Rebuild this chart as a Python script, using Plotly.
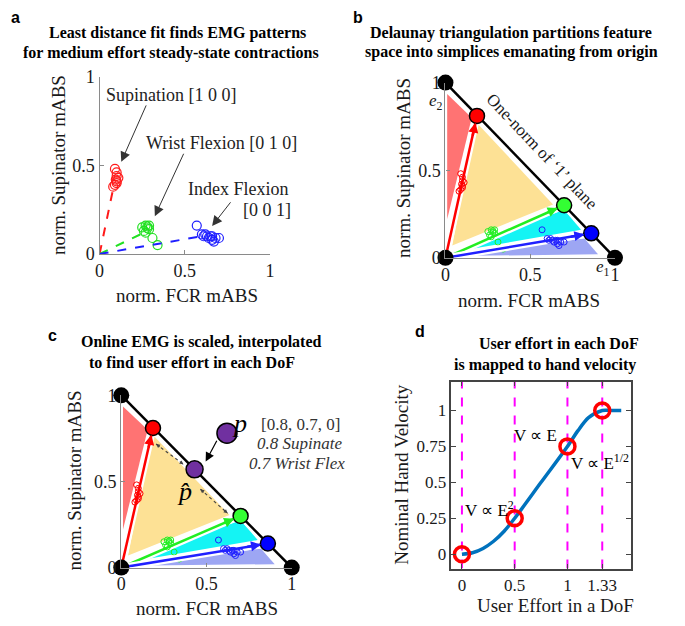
import plotly.graph_objects as go

W, H = 685, 626
SERIF = "Times New Roman, Liberation Serif, serif"
SANS = "Arial, Liberation Sans, sans-serif"
TXT = "#1a1a1a"
AX = "#8a8a8a"

# ---------------- Panel a data: steady-state contraction features ----------------
sup_x = [0.09, 0.10, 0.10, 0.095, 0.10, 0.09, 0.08, 0.10, 0.11]
sup_y = [0.48, 0.46, 0.44, 0.42, 0.41, 0.39, 0.38, 0.40, 0.43]
wf_x = [0.25, 0.27, 0.29, 0.28, 0.26, 0.27, 0.29, 0.31, 0.34, 0.28]
wf_y = [0.15, 0.16, 0.16, 0.145, 0.13, 0.12, 0.14, 0.09, 0.05, 0.155]
if_x = [0.57, 0.60, 0.62, 0.63, 0.64, 0.65, 0.66, 0.67, 0.68, 0.70, 0.61, 0.66]
if_y = [0.16, 0.11, 0.11, 0.10, 0.09, 0.10, 0.08, 0.07, 0.09, 0.09, 0.10, 0.10]
# least-distance fit directions (end points of dashed lines)
fit_sup = [0.08, 0.37]
fit_wf = [0.26, 0.12]
fit_if = [0.60, 0.10]

# ---------------- Panels b/c: simplex geometry ----------------
node_sup = [0.186, 0.81]
node_wf = [0.70, 0.30]
node_if = [0.86, 0.14]
corner_x = [0, 1, 0]
corner_y = [0, 0, 1]
reg_red_x = [0.01, 0.155, 0.01]
reg_red_y = [0.935, 0.80, 0.22]
reg_yel_x = [0.18, 0.635, 0.04]
reg_yel_y = [0.775, 0.305, 0.07]
reg_cya_x = [0.03, 0.70, 0.80]
reg_cya_y = [0.03, 0.275, 0.16]
reg_blu_x = [0.03, 0.82, 0.90]
reg_blu_y = [0.01, 0.11, 0.02]
p_pt = [0.62, 0.78]
phat_pt = [0.43, 0.57]

# ---------------- Panel d: effort -> velocity ----------------
effort = [0, 0.1, 0.2, 0.3, 0.4, 0.5, 0.75, 1.0, 1.1, 1.2, 1.33, 1.42, 1.51]
velocity = [0, 0.01, 0.04, 0.09, 0.16, 0.25, 0.50, 0.75, 0.86, 0.95, 1.0, 1.0, 1.0]
knot_e = [0, 0.5, 1, 1.33]
knot_v = [0, 0.25, 0.75, 1.0]
d_xticks = [0, 0.5, 1, 1.33]
d_xlabels = ["0", "0.5", "1", "1.33"]
d_yticks = [0, 0.25, 0.5, 0.75, 1]
d_ylabels = ["0", "0.25", "0.5", "0.75", "1"]
abc_ticks = [0, 0.5, 1]
abc_labels = ["0", "0.5", "1"]


def fx(px):
    return px / W


def fy(py):
    return 1 - py / H


fig = go.Figure()

# ---------- panel a ----------
for xs, ys, fit, col in [(sup_x, sup_y, fit_sup, "#ff1a1a"),
                         (wf_x, wf_y, fit_wf, "#22e022"),
                         (if_x, if_y, fit_if, "#1f1fff")]:
    fig.add_trace(go.Scatter(x=[0, fit[0]], y=[0, fit[1]], mode="lines",
                             line=dict(color=col, width=2, dash="dash"),
                             xaxis="x", yaxis="y", cliponaxis=False))
    fig.add_trace(go.Scatter(x=xs, y=ys, mode="markers",
                             marker=dict(symbol="circle-open", size=9, color=col,
                                         line=dict(width=1.2, color=col)),
                             xaxis="x", yaxis="y", cliponaxis=False))


# ---------- panels b and c ----------
def simplex(xa, ya, small):
    for rx, ry, col in [(reg_red_x, reg_red_y, "#ff7373"),
                        (reg_yel_x, reg_yel_y, "#fde195"),
                        (reg_cya_x, reg_cya_y, "#14f4f4"),
                        (reg_blu_x, reg_blu_y, "#9da6f3")]:
        fig.add_trace(go.Scatter(x=rx + [rx[0]], y=ry + [ry[0]], mode="lines",
                                 fill="toself", fillcolor=col,
                                 line=dict(width=0, color=col),
                                 xaxis=xa, yaxis=ya, cliponaxis=False))
    for node, xs, ys, col in [(node_sup, sup_x, sup_y, "#ff0000"),
                              (node_wf, wf_x, wf_y, "#22ee22"),
                              (node_if, if_x, if_y, "#2020ff")]:
        fig.add_trace(go.Scatter(x=[0, node[0]], y=[0, node[1]], mode="lines",
                                 line=dict(color="white", width=7),
                                 xaxis=xa, yaxis=ya, cliponaxis=False))
        fig.add_trace(go.Scatter(x=[0, node[0]], y=[0, node[1]], mode="lines",
                                 line=dict(color=col, width=2.5),
                                 xaxis=xa, yaxis=ya, cliponaxis=False))
        fig.add_trace(go.Scatter(x=xs, y=ys, mode="markers",
                                 marker=dict(symbol="circle-open", size=small,
                                             color=col, line=dict(width=1, color=col)),
                                 xaxis=xa, yaxis=ya, cliponaxis=False))
    fig.add_trace(go.Scatter(x=[0, 1], y=[1, 0], mode="lines",
                             line=dict(color="white", width=7),
                             xaxis=xa, yaxis=ya, cliponaxis=False))
    fig.add_trace(go.Scatter(x=[0, 1], y=[1, 0], mode="lines",
                             line=dict(color="black", width=2.5),
                             xaxis=xa, yaxis=ya, cliponaxis=False))
    fig.add_trace(go.Scatter(x=corner_x, y=corner_y, mode="markers",
                             marker=dict(size=16, color="black", opacity=1),
                             xaxis=xa, yaxis=ya, cliponaxis=False))
    fig.add_trace(go.Scatter(x=[node_sup[0], node_wf[0], node_if[0]],
                             y=[node_sup[1], node_wf[1], node_if[1]], mode="markers",
                             marker=dict(size=15, color=["#ff0000", "#33ff33", "#0000ff"],
                                         opacity=1, line=dict(width=1.5, color="black")),
                             xaxis=xa, yaxis=ya, cliponaxis=False))


simplex("x2", "y2", 6)
simplex("x3", "y3", 6)

# dashed double arrows in panel c
dbl = [([0.204, 0.365], [0.717, 0.599]), ([0.464, 0.624], [0.455, 0.315])]
for xs, ys in dbl:
    fig.add_trace(go.Scatter(x=xs, y=ys, mode="lines",
                             line=dict(color="#444", width=1.2, dash="dot"),
                             xaxis="x3", yaxis="y3", cliponaxis=False))
fig.add_trace(go.Scatter(x=[p_pt[0], phat_pt[0]], y=[p_pt[1], phat_pt[1]], mode="markers",
                         marker=dict(size=[20, 17], color="#7030a0", opacity=1,
                                     line=dict(width=1.5, color="black")),
                         xaxis="x3", yaxis="y3", cliponaxis=False))

# ---------- panel d ----------
for e in knot_e:
    fig.add_trace(go.Scatter(x=[e, e], y=[-0.1, 1.2], mode="lines",
                             line=dict(color="#ff00ff", width=2, dash="dash"),
                             xaxis="x4", yaxis="y4"))
fig.add_trace(go.Scatter(x=effort, y=velocity, mode="lines",
                         line=dict(color="#0072bd", width=3.5, shape="spline", smoothing=0.8),
                         xaxis="x4", yaxis="y4"))
fig.add_trace(go.Scatter(x=knot_e, y=knot_v, mode="markers",
                         marker=dict(symbol="circle-open", size=15, color="#ff0000",
                                     line=dict(width=3.5, color="#ff0000")),
                         xaxis="x4", yaxis="y4", cliponaxis=False))

# ---------- axes ----------
tickfont = dict(family=SERIF, size=18, color=TXT)


def simple_axis(dom, anchor):
    return dict(domain=dom, anchor=anchor, range=[0, 1], showgrid=False, zeroline=False,
                showline=True, linecolor=AX, linewidth=1.3, ticks="inside", ticklen=4,
                tickcolor=AX, tickvals=abc_ticks, ticktext=abc_labels, tickfont=tickfont)


layout = dict(
    width=W, height=H, margin=dict(l=0, r=0, t=0, b=0),
    paper_bgcolor="white", plot_bgcolor="rgba(0,0,0,0)", showlegend=False,
    xaxis=simple_axis([fx(96), fx(269)], "y"),
    yaxis=simple_axis([fy(252), fy(69)], "x"),
    xaxis2=simple_axis([fx(447), fx(619)], "y2"),
    yaxis2=simple_axis([fy(256), fy(75)], "x2"),
    xaxis3=simple_axis([fx(118), fx(291)], "y3"),
    yaxis3=simple_axis([fy(576), fy(398)], "x3"),
    xaxis4=dict(domain=[fx(453), fx(635)], anchor="y4", range=[-0.1, 1.6], showgrid=False,
                zeroline=False, showline=True, mirror="ticks", linecolor="#444", linewidth=1.5,
                ticks="inside", ticklen=5, tickcolor="#444", tickvals=d_xticks,
                ticktext=d_xlabels, tickfont=dict(family=SERIF, size=17, color=TXT)),
    yaxis4=dict(domain=[fy(577), fy(384)], anchor="x4", range=[-0.1, 1.2], showgrid=False,
                zeroline=False, showline=True, mirror="ticks", linecolor="#444", linewidth=1.5,
                ticks="inside", ticklen=5, tickcolor="#444", tickvals=d_yticks,
                ticktext=d_ylabels, tickfont=dict(family=SERIF, size=17, color=TXT)),
)
fig.update_layout(**layout)

ann = []


def ptext(px, py, text, size=18, family=SERIF, angle=0, color=TXT, xanchor="center"):
    ann.append(dict(x=fx(px), y=fy(py), xref="paper", yref="paper", text=text,
                    showarrow=False, textangle=angle, xanchor=xanchor, yanchor="middle",
                    font=dict(family=family, size=size, color=color)))


# panel letters
ptext(11, 8, "<b>a</b>", 16, SANS, color="black")
ptext(358, 8, "<b>b</b>", 16, SANS, color="black")
ptext(48, 336, "<b>c</b>", 16, SANS, color="black")
ptext(421, 332, "<b>d</b>", 16, SANS, color="black")

# titles
ptext(175, 24, "<b>Least distance fit finds EMG patterns</b>", 16, color="black")
ptext(168, 44, "<b>for medium effort steady-state contractions</b>", 16, color="black")
ptext(513, 24, "<b>Delaunay triangulation partitions feature</b>", 16, color="black")
ptext(514, 43, "<b>space into simplices emanating from origin</b>", 16, color="black")
ptext(199, 343, "<b>Online EMG is scaled, interpolated</b>", 16, color="black")
ptext(190, 364, "<b>to find user effort in each DoF</b>", 16, color="black")
ptext(562, 345, "<b>User effort in each DoF</b>", 16, color="black")
ptext(548, 367, "<b>is mapped to hand velocity</b>", 16, color="black")

# axis titles
ptext(185, 295, "norm. FCR mABS", 19)
ptext(55, 160, "norm. Supinator mABS", 19, angle=-90)
ptext(532, 300, "norm. FCR mABS", 19)
ptext(405, 163, "norm. Supinator mABS", 19, angle=-90)
ptext(205, 618, "norm. FCR mABS", 19)
ptext(70, 486, "norm. Supinator mABS", 19, angle=-90)
ptext(559, 615, "User Effort in a DoF", 19)
ptext(403, 480, "Nominal Hand Velocity", 19, angle=-90)

# panel a labels
ptext(169, 88, "Supination [1 0 0]", 18, color="#222")
ptext(220, 137, "Wrist Flexion [0 1 0]", 18, color="#222")
ptext(290, 185, "Index Flexion", 18, color="#222", xanchor="right")
ptext(292, 207, "[0 0 1]", 18, color="#222", xanchor="right")


def arrow(xr, yr, hx, hy, tx, ty, head=2, size=1.3, width=1.0, color="#333", standoff=0):
    ann.append(dict(xref=xr, yref=yr, axref=xr, ayref=yr, x=hx, y=hy, ax=tx, ay=ty,
                    text="", showarrow=True, arrowhead=head, arrowsize=size,
                    arrowwidth=width, arrowcolor=color, standoff=standoff))


arrow("x", "y", 0.127, 0.52, 0.277, 0.847, size=2.0)
arrow("x", "y", 0.324, 0.213, 0.497, 0.574, size=2.0)
arrow("x", "y", 0.66, 0.158, 0.775, 0.30, size=2.0)

# small arrowheads at the ends of the simplex edges (panels b, c)
for xr, yr in [("x2", "y2"), ("x3", "y3")]:
    for node, col in [(node_sup, "#ff0000"), (node_wf, "#22ee22"), (node_if, "#2020ff")]:
        arrow(xr, yr, node[0], node[1], node[0] * 0.85, node[1] * 0.85, head=2, size=0.8,
              width=2.5, color=col, standoff=7)

# panel b labels
ptext(545, 146, "One-norm of \u20181\u2019 plane", 17, angle=46.5)
ptext(437, 95, "<i>e</i><sub>2</sub>", 17)
ptext(607, 266, "<i>e</i><sub>1</sub>", 17)

# panel c labels
arrow("x3", "y3", 0.495, 0.615, 0.565, 0.745, head=2, size=1.5, width=1.2, color="black")
for xs, ys in dbl:
    arrow("x3", "y3", xs[1], ys[1], xs[1] - 0.03 * (xs[1] - xs[0]) / 0.16,
          ys[1] - 0.03 * (ys[1] - ys[0]) / 0.16, head=2, size=0.8, width=1, color="#444")
    arrow("x3", "y3", xs[0], ys[0], xs[0] + 0.03 * (xs[1] - xs[0]) / 0.16,
          ys[0] + 0.03 * (ys[1] - ys[0]) / 0.16, head=2, size=0.8, width=1, color="#444")
ptext(238, 427, "<i>p</i>", 26, color="black")
ptext(182, 497, "<i>p\u0302</i>", 26, color="black")
ptext(300, 428, "[0.8, 0.7, 0]", 17, color="#333")
ptext(299, 448, "<i>0.8 Supinate</i>", 17, color="#333")
ptext(296, 468, "<i>0.7 Wrist Flex</i>", 17, color="#333")

# panel d labels
ptext(492, 515, "V \u221d E<sup>2</sup>", 17, color="black")
ptext(538, 440, "V \u221d E", 17, color="black")
ptext(604, 467, "V \u221d E<sup>1/2</sup>", 17, color="black")

fig.update_layout(annotations=ann)
fig.write_html("out.html", config={"displayModeBar": False},
               post_script="document.body.style.margin='0';document.body.style.overflow='hidden';")
